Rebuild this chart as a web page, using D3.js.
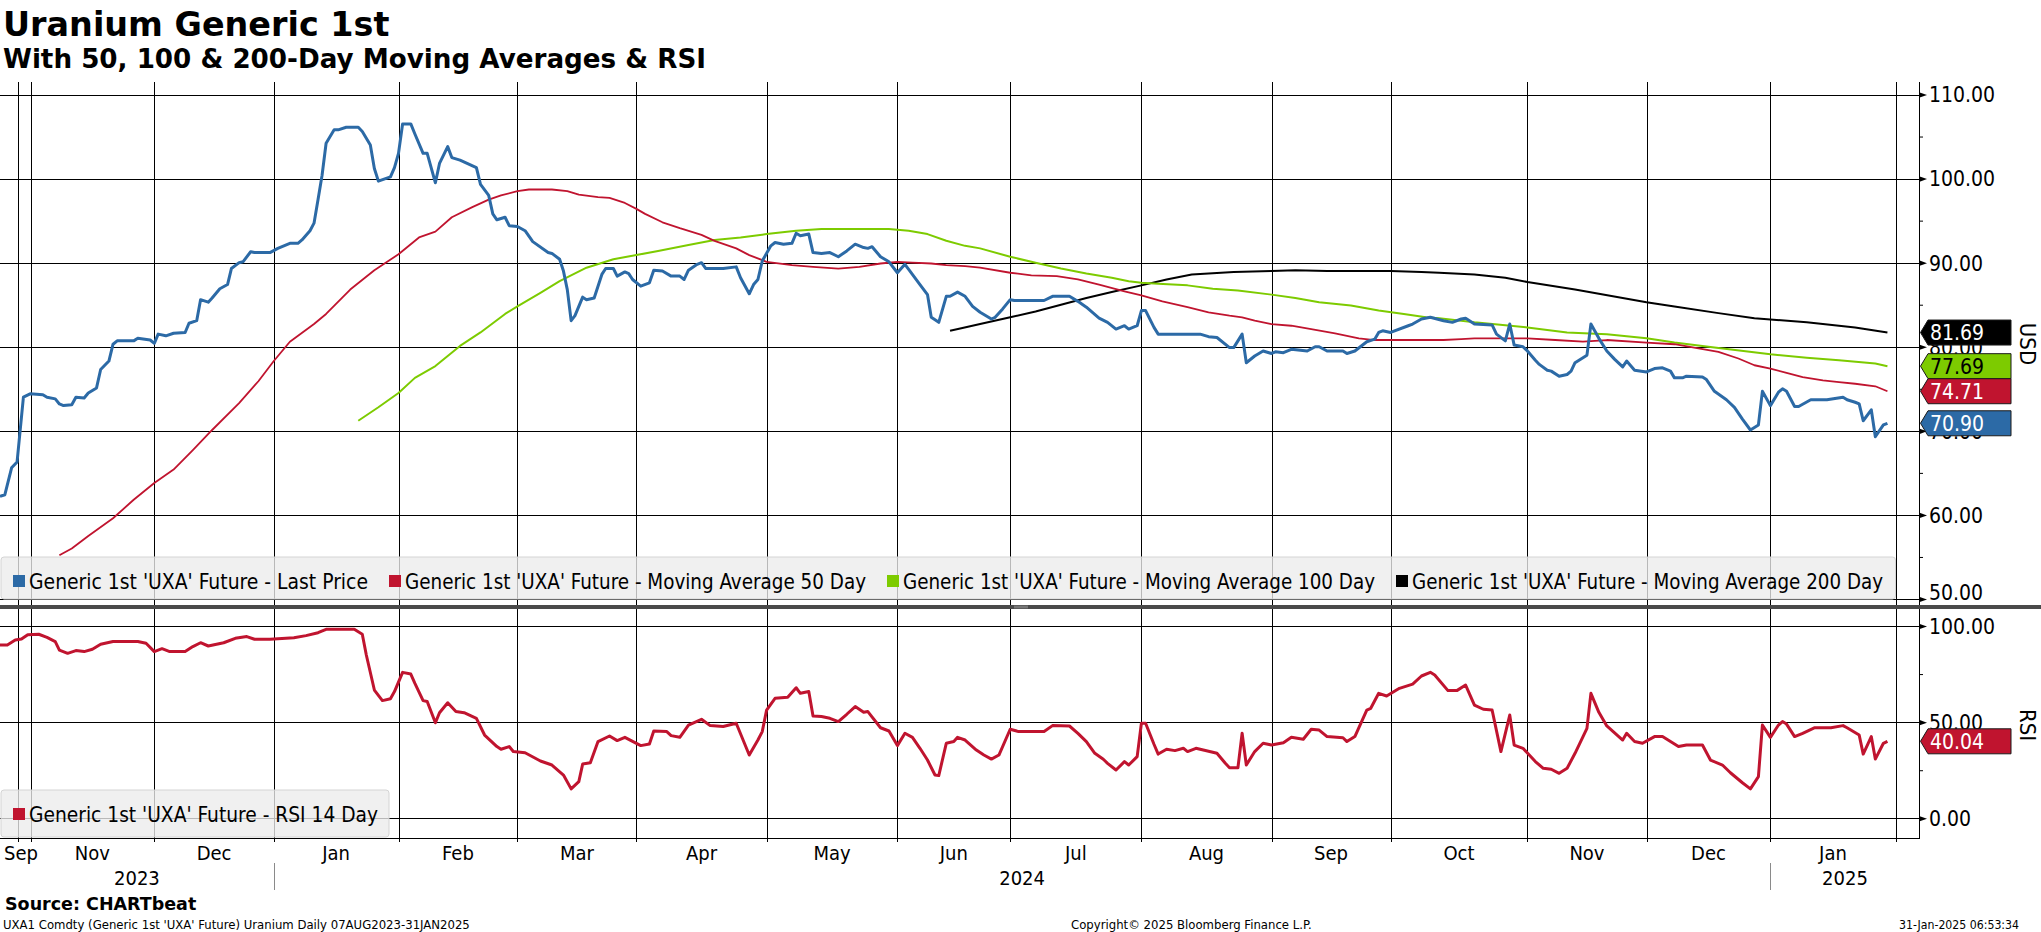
<!DOCTYPE html>
<meta charset="utf-8">
<style>
body { margin: 0; background: #fff; }
text { font-family: "DejaVu Sans", "Liberation Sans", sans-serif; }
.cond { font-stretch: condensed; }
</style>
<body>
<script src="https://cdn.jsdelivr.net/npm/d3@7/dist/d3.min.js"></script>
<script>

// ---- data ----
var monthStarts = ["2023-09-01","2023-10-01","2023-11-01","2023-12-01","2024-01-01","2024-02-01","2024-03-01","2024-04-01","2024-05-01","2024-06-01","2024-07-01","2024-08-01","2024-09-01","2024-10-01","2024-11-01","2024-12-01","2025-01-01","2025-02-01"];
var monthLabels = ["Sep","","Nov","Dec","Jan","Feb","Mar","Apr","May","Jun","Jul","Aug","Sep","Oct","Nov","Dec","Jan",""];
var yearLabels = ["2023","2024","2025"];
var axisEnd = "2025-02-06";

var priceTicks = [50, 60, 70, 80, 90, 100, 110];
var rsiTicks = [0, 50, 100];

var lastPrice = [["2023-09-01",62.2],["2023-09-09",62.4],["2023-09-20",65.6],["2023-09-29",66.3],["2023-10-14",74.0],["2023-10-31",74.4],["2023-11-04",74.3],["2023-11-05",74.0],["2023-11-07",73.8],["2023-11-08",73.2],["2023-11-09",73.0],["2023-11-11",73.1],["2023-11-12",74.0],["2023-11-14",73.9],["2023-11-15",74.5],["2023-11-17",75.1],["2023-11-18",77.3],["2023-11-20",78.3],["2023-11-21",80.3],["2023-11-22",80.7],["2023-11-26",80.7],["2023-11-27",81.0],["2023-11-30",80.8],["2023-12-01",80.4],["2023-12-02",81.5],["2023-12-04",81.3],["2023-12-06",81.6],["2023-12-09",81.7],["2023-12-10",82.8],["2023-12-12",83.1],["2023-12-13",85.6],["2023-12-15",85.3],["2023-12-16",85.8],["2023-12-18",86.9],["2023-12-20",87.4],["2023-12-21",89.3],["2023-12-23",90.0],["2023-12-24",90.1],["2023-12-26",91.3],["2023-12-27",91.2],["2023-12-31",91.2],["2024-01-02",91.7],["2024-01-05",92.3],["2024-01-07",92.3],["2024-01-08",92.7],["2024-01-10",93.8],["2024-01-11",94.7],["2024-01-12",97.5],["2024-01-13",100.4],["2024-01-14",104.2],["2024-01-16",105.8],["2024-01-17",105.8],["2024-01-19",106.1],["2024-01-22",106.1],["2024-01-23",105.6],["2024-01-25",104.0],["2024-01-26",101.2],["2024-01-27",99.7],["2024-01-30",100.2],["2024-01-31",101.3],["2024-02-01",103.0],["2024-02-02",106.5],["2024-02-04",106.5],["2024-02-05",105.3],["2024-02-07",103.0],["2024-02-08",103.0],["2024-02-10",99.5],["2024-02-11",101.8],["2024-02-13",103.8],["2024-02-14",102.5],["2024-02-16",102.2],["2024-02-20",101.3],["2024-02-21",99.3],["2024-02-23",98.0],["2024-02-24",95.8],["2024-02-25",95.1],["2024-02-27",95.4],["2024-02-28",94.4],["2024-03-01",94.3],["2024-03-03",93.8],["2024-03-05",92.5],["2024-03-09",91.2],["2024-03-10",91.1],["2024-03-12",90.4],["2024-03-13",89.0],["2024-03-14",86.8],["2024-03-15",83.1],["2024-03-16",83.7],["2024-03-18",85.9],["2024-03-19",85.6],["2024-03-21",85.8],["2024-03-23",88.6],["2024-03-24",89.3],["2024-03-26",89.3],["2024-03-27",88.4],["2024-03-29",88.9],["2024-03-30",88.7],["2024-03-31",88.0],["2024-04-02",87.2],["2024-04-04",87.6],["2024-04-05",89.1],["2024-04-07",89.0],["2024-04-09",88.4],["2024-04-11",88.4],["2024-04-12",88.0],["2024-04-13",89.1],["2024-04-15",89.8],["2024-04-16",90.0],["2024-04-17",89.3],["2024-04-21",89.3],["2024-04-24",89.5],["2024-04-25",88.2],["2024-04-27",86.3],["2024-04-28",87.4],["2024-04-29",88.0],["2024-04-30",90.2],["2024-05-02",92.0],["2024-05-03",92.4],["2024-05-05",92.2],["2024-05-07",92.3],["2024-05-08",93.5],["2024-05-09",93.2],["2024-05-11",93.4],["2024-05-12",91.2],["2024-05-14",91.1],["2024-05-16",91.2],["2024-05-18",90.7],["2024-05-20",91.4],["2024-05-22",92.2],["2024-05-24",91.8],["2024-05-25",91.7],["2024-05-26",91.9],["2024-05-28",90.7],["2024-05-30",90.1],["2024-06-01",88.8],["2024-06-03",89.8],["2024-06-04",89.2],["2024-06-07",87.4],["2024-06-09",86.2],["2024-06-10",83.5],["2024-06-12",82.9],["2024-06-14",86.0],["2024-06-15",86.0],["2024-06-17",86.5],["2024-06-19",86.0],["2024-06-21",84.8],["2024-06-23",84.1],["2024-06-26",83.3],["2024-06-27",83.5],["2024-06-29",84.5],["2024-07-01",85.6],["2024-07-02",85.5],["2024-07-09",85.5],["2024-07-11",86.0],["2024-07-15",86.0],["2024-07-17",85.4],["2024-07-19",84.7],["2024-07-22",83.4],["2024-07-24",82.9],["2024-07-26",82.1],["2024-07-28",82.5],["2024-07-29",82.1],["2024-07-31",82.5],["2024-08-01",84.3],["2024-08-02",84.3],["2024-08-04",82.3],["2024-08-05",81.5],["2024-08-15",81.5],["2024-08-17",81.2],["2024-08-19",81.1],["2024-08-22",79.9],["2024-08-23",79.9],["2024-08-25",81.5],["2024-08-26",78.1],["2024-08-28",78.9],["2024-08-30",79.5],["2024-09-01",79.2],["2024-09-02",79.4],["2024-09-04",79.3],["2024-09-06",79.7],["2024-09-10",79.5],["2024-09-12",80.0],["2024-09-13",80.0],["2024-09-15",79.5],["2024-09-19",79.5],["2024-09-20",79.2],["2024-09-22",79.5],["2024-09-25",80.6],["2024-09-27",80.9],["2024-09-28",81.7],["2024-09-29",81.9],["2024-10-01",81.7],["2024-10-05",82.5],["2024-10-06",82.7],["2024-10-08",83.3],["2024-10-10",83.5],["2024-10-13",83.1],["2024-10-15",82.9],["2024-10-17",83.3],["2024-10-18",83.4],["2024-10-20",82.7],["2024-10-24",82.6],["2024-10-25",81.5],["2024-10-27",80.7],["2024-10-28",82.7],["2024-10-29",80.2],["2024-10-31",80.0],["2024-11-01",79.5],["2024-11-03",78.4],["2024-11-04",77.9],["2024-11-06",77.2],["2024-11-07",77.1],["2024-11-09",76.5],["2024-11-11",76.7],["2024-11-12",77.1],["2024-11-13",78.1],["2024-11-16",79.0],["2024-11-17",82.7],["2024-11-19",81.0],["2024-11-21",79.5],["2024-11-23",78.5],["2024-11-25",77.6],["2024-11-26",78.3],["2024-11-28",77.2],["2024-12-01",77.0],["2024-12-03",77.4],["2024-12-05",77.5],["2024-12-07",77.1],["2024-12-08",76.3],["2024-12-10",76.3],["2024-12-11",76.5],["2024-12-15",76.4],["2024-12-16",76.1],["2024-12-18",74.7],["2024-12-21",73.7],["2024-12-23",72.8],["2024-12-25",71.4],["2024-12-27",70.1],["2024-12-29",70.7],["2024-12-30",74.7],["2025-01-01",73.0],["2025-01-03",74.6],["2025-01-04",75.0],["2025-01-05",74.7],["2025-01-07",72.9],["2025-01-08",72.9],["2025-01-11",73.7],["2025-01-15",73.7],["2025-01-19",74.0],["2025-01-20",73.7],["2025-01-22",73.4],["2025-01-23",73.2],["2025-01-24",71.2],["2025-01-26",72.5],["2025-01-27",69.3],["2025-01-29",70.7],["2025-01-30",70.9]];

var ma50 = [["2023-11-08",55.2],["2023-11-11",56.0],["2023-11-15",57.5],["2023-11-21",59.6],["2023-11-26",61.8],["2023-12-01",63.8],["2023-12-06",65.4],["2023-12-11",67.7],["2023-12-16",70.1],["2023-12-23",73.3],["2023-12-28",75.9],["2024-01-01",78.3],["2024-01-05",80.6],["2024-01-11",82.7],["2024-01-14",83.9],["2024-01-20",86.8],["2024-01-26",89.1],["2024-02-01",91.0],["2024-02-06",93.0],["2024-02-10",93.7],["2024-02-14",95.4],["2024-02-19",96.6],["2024-02-23",97.5],["2024-02-26",98.0],["2024-03-01",98.5],["2024-03-04",98.7],["2024-03-10",98.7],["2024-03-14",98.5],["2024-03-17",98.1],["2024-03-22",97.8],["2024-03-25",97.7],["2024-03-29",97.1],["2024-04-01",96.4],["2024-04-03",95.8],["2024-04-07",94.8],["2024-04-11",94.1],["2024-04-16",93.3],["2024-04-19",92.6],["2024-04-24",91.7],["2024-04-27",90.9],["2024-05-01",90.1],["2024-05-07",89.7],["2024-05-12",89.5],["2024-05-18",89.3],["2024-05-23",89.5],["2024-05-28",89.9],["2024-06-01",90.1],["2024-06-05",90.0],["2024-06-10",89.9],["2024-06-14",89.7],["2024-06-19",89.6],["2024-06-23",89.4],["2024-07-01",88.8],["2024-07-06",88.5],["2024-07-12",88.4],["2024-07-17",88.0],["2024-07-22",87.4],["2024-07-28",86.6],["2024-08-01",86.1],["2024-08-06",85.4],["2024-08-12",84.7],["2024-08-17",84.1],["2024-08-22",83.7],["2024-08-25",83.5],["2024-08-28",83.1],["2024-09-01",82.7],["2024-09-06",82.5],["2024-09-11",82.1],["2024-09-17",81.6],["2024-09-23",81.0],["2024-09-27",80.8],["2024-10-02",80.8],["2024-10-08",80.8],["2024-10-13",80.8],["2024-10-17",80.9],["2024-10-20",81.0],["2024-11-01",81.0],["2024-11-08",80.8],["2024-11-15",80.6],["2024-11-21",80.8],["2024-12-01",80.5],["2024-12-08",80.3],["2024-12-14",79.8],["2024-12-19",79.4],["2024-12-24",78.6],["2024-12-28",77.8],["2025-01-01",77.4],["2025-01-05",76.9],["2025-01-09",76.4],["2025-01-14",76.0],["2025-01-18",75.8],["2025-01-22",75.6],["2025-01-27",75.3],["2025-01-30",74.71]];

var ma100 = [["2024-01-22",71.2],["2024-01-27",72.8],["2024-02-01",74.5],["2024-02-05",76.3],["2024-02-10",77.7],["2024-02-16",80.1],["2024-02-21",81.7],["2024-02-27",83.9],["2024-03-01",84.8],["2024-03-07",86.4],["2024-03-12",87.8],["2024-03-19",89.4],["2024-03-26",90.4],["2024-04-01",90.9],["2024-04-06",91.4],["2024-04-13",92.1],["2024-04-19",92.7],["2024-04-25",93.0],["2024-05-01",93.4],["2024-05-08",93.8],["2024-05-14",94.0],["2024-05-20",94.0],["2024-05-30",94.0],["2024-06-04",93.8],["2024-06-09",93.4],["2024-06-14",92.6],["2024-06-19",92.0],["2024-06-23",91.7],["2024-07-01",90.7],["2024-07-07",90.0],["2024-07-13",89.3],["2024-07-19",88.7],["2024-07-25",88.2],["2024-07-29",87.8],["2024-08-01",87.6],["2024-08-05",87.5],["2024-08-12",87.3],["2024-08-18",86.9],["2024-08-24",86.7],["2024-09-01",86.2],["2024-09-07",85.8],["2024-09-13",85.3],["2024-09-21",84.9],["2024-09-28",84.3],["2024-10-04",83.9],["2024-10-09",83.5],["2024-10-12",83.4],["2024-10-17",83.1],["2024-10-20",82.9],["2024-11-01",82.3],["2024-11-11",81.7],["2024-11-21",81.5],["2024-12-01",81.0],["2024-12-08",80.5],["2024-12-18",79.9],["2025-01-01",79.1],["2025-01-10",78.7],["2025-01-18",78.4],["2025-01-27",78.0],["2025-01-30",77.69]];

var ma200 = [["2024-06-15",81.9],["2024-06-18",82.2],["2024-06-23",82.7],["2024-07-01",83.5],["2024-07-07",84.2],["2024-07-13",85.0],["2024-07-19",85.8],["2024-07-25",86.5],["2024-08-01",87.3],["2024-08-07",88.0],["2024-08-13",88.6],["2024-08-23",88.9],["2024-09-01",89.0],["2024-09-07",89.1],["2024-09-15",89.0],["2024-10-01",89.0],["2024-10-08",88.9],["2024-10-12",88.8],["2024-10-20",88.6],["2024-10-27",88.2],["2024-11-01",87.7],["2024-11-13",86.8],["2024-12-01",85.3],["2024-12-08",84.8],["2024-12-19",84.0],["2024-12-28",83.4],["2025-01-10",82.9],["2025-01-22",82.3],["2025-01-30",81.69]];

var rsi14 = [["2023-09-01",90.1],["2023-09-13",90.1],["2023-09-26",92.7],["2023-10-09",93.2],["2023-10-25",95.5],["2023-11-03",95.7],["2023-11-05",94.1],["2023-11-07",91.9],["2023-11-08",87.5],["2023-11-10",85.8],["2023-11-12",87.2],["2023-11-14",86.7],["2023-11-16",87.9],["2023-11-18",90.5],["2023-11-21",91.9],["2023-11-27",91.9],["2023-11-29",91.0],["2023-12-01",86.7],["2023-12-03",88.2],["2023-12-05",86.7],["2023-12-09",86.7],["2023-12-11",89.3],["2023-12-13",91.3],["2023-12-15",89.6],["2023-12-19",91.3],["2023-12-22",93.6],["2023-12-25",94.5],["2023-12-27",93.1],["2023-12-31",93.1],["2024-01-06",93.9],["2024-01-09",95.0],["2024-01-12",96.5],["2024-01-14",98.3],["2024-01-21",98.3],["2024-01-23",95.7],["2024-01-24",84.9],["2024-01-26",66.7],["2024-01-28",61.2],["2024-01-30",62.2],["2024-01-31",65.9],["2024-02-02",75.9],["2024-02-04",75.0],["2024-02-05",70.2],["2024-02-07",61.2],["2024-02-08",60.7],["2024-02-10",49.7],["2024-02-11",54.9],["2024-02-13",60.1],["2024-02-15",55.5],["2024-02-17",54.9],["2024-02-20",52.0],["2024-02-22",43.3],["2024-02-25",37.3],["2024-02-26",35.9],["2024-02-28",37.3],["2024-02-29",34.7],["2024-03-03",34.1],["2024-03-07",29.8],["2024-03-10",27.7],["2024-03-13",22.5],["2024-03-15",15.3],["2024-03-17",19.1],["2024-03-18",28.2],["2024-03-20",28.9],["2024-03-22",39.9],["2024-03-25",42.8],["2024-03-27",40.4],["2024-03-29",42.1],["2024-04-02",37.8],["2024-04-04",38.6],["2024-04-05",45.4],["2024-04-08",45.1],["2024-04-09",43.0],["2024-04-11",42.1],["2024-04-13",48.5],["2024-04-16",51.5],["2024-04-18",48.2],["2024-04-21",47.7],["2024-04-24",49.4],["2024-04-27",32.9],["2024-04-29",40.7],["2024-04-30",45.1],["2024-05-01",56.3],["2024-05-03",62.4],["2024-05-06",62.9],["2024-05-08",67.9],["2024-05-09",65.0],["2024-05-11",65.9],["2024-05-12",53.2],["2024-05-14",52.9],["2024-05-16",52.0],["2024-05-18",50.3],["2024-05-20",54.1],["2024-05-22",58.1],["2024-05-24",55.1],["2024-05-25",55.5],["2024-05-28",47.1],["2024-05-30",45.4],["2024-06-01",37.8],["2024-06-03",44.2],["2024-06-05",42.1],["2024-06-07",36.4],["2024-06-09",30.3],["2024-06-11",22.5],["2024-06-12",22.2],["2024-06-14",39.0],["2024-06-16",39.9],["2024-06-17",42.1],["2024-06-19",40.7],["2024-06-22",35.5],["2024-06-24",32.9],["2024-06-26",30.8],["2024-06-28",32.9],["2024-07-01",46.3],["2024-07-03",45.1],["2024-07-09",45.1],["2024-07-11",48.2],["2024-07-15",48.0],["2024-07-17",44.2],["2024-07-19",39.9],["2024-07-21",33.8],["2024-07-23",30.7],["2024-07-24",28.6],["2024-07-26",25.1],["2024-07-28",29.5],["2024-07-29",27.7],["2024-07-31",32.1],["2024-08-01",49.4],["2024-08-02",49.4],["2024-08-04",38.5],["2024-08-05",33.4],["2024-08-07",35.9],["2024-08-09",35.2],["2024-08-11",36.4],["2024-08-12",34.7],["2024-08-14",36.4],["2024-08-19",33.8],["2024-08-21",28.6],["2024-08-22",26.3],["2024-08-24",26.3],["2024-08-25",44.2],["2024-08-26",27.7],["2024-08-28",34.7],["2024-08-30",39.0],["2024-09-01",38.1],["2024-09-04",39.3],["2024-09-06",42.1],["2024-09-09",41.1],["2024-09-11",46.3],["2024-09-13",45.9],["2024-09-15",42.5],["2024-09-19",41.9],["2024-09-20",39.9],["2024-09-22",42.5],["2024-09-25",56.3],["2024-09-26",57.2],["2024-09-28",65.0],["2024-09-30",63.6],["2024-10-03",67.6],["2024-10-06",69.8],["2024-10-08",74.0],["2024-10-10",75.9],["2024-10-11",74.5],["2024-10-14",66.4],["2024-10-16",66.4],["2024-10-18",69.3],["2024-10-20",58.9],["2024-10-22",56.7],["2024-10-24",56.3],["2024-10-26",34.7],["2024-10-28",53.7],["2024-10-29",38.1],["2024-10-31",36.4],["2024-11-03",29.5],["2024-11-05",26.0],["2024-11-07",25.5],["2024-11-09",23.4],["2024-11-11",26.0],["2024-11-13",33.8],["2024-11-16",46.8],["2024-11-17",65.0],["2024-11-19",55.1],["2024-11-21",48.0],["2024-11-25",40.7],["2024-11-26",44.2],["2024-11-28",39.9],["2024-11-30",39.0],["2024-12-03",42.5],["2024-12-05",42.5],["2024-12-09",37.3],["2024-12-11",38.1],["2024-12-15",38.1],["2024-12-17",30.3],["2024-12-20",27.7],["2024-12-22",23.7],["2024-12-25",18.5],["2024-12-27",15.3],["2024-12-29",21.7],["2024-12-30",48.5],["2025-01-01",42.1],["2025-01-03",48.5],["2025-01-04",50.3],["2025-01-05",49.0],["2025-01-07",42.5],["2025-01-09",44.2],["2025-01-12",47.1],["2025-01-16",47.1],["2025-01-19",48.2],["2025-01-20",47.1],["2025-01-23",43.3],["2025-01-24",33.4],["2025-01-26",42.5],["2025-01-27",30.8],["2025-01-29",39.0],["2025-01-30",40.04]];

var legendNames = ["Generic 1st 'UXA' Future - Last Price", "Generic 1st 'UXA' Future - Moving Average 50 Day", "Generic 1st 'UXA' Future - Moving Average 100 Day", "Generic 1st 'UXA' Future - Moving Average 200 Day"];
var rsiName = "Generic 1st 'UXA' Future - RSI 14 Day";

// ---- styling ----
var blue = "#2c6aa6", red = "#c0142f", green = "#7dcb00", black = "#000";
var legendWidths = [339, 461, 472, 471];   // text widths as measured in the picture
var rsiLegendWidth = 349;

var W = 2041, H = 932;
var plotRight = 1919, plotTop = 82, sepY = 607, plotBottom = 838;

var parse = d3.timeParse("%Y-%m-%d");

var axisPx = [0, 18.3, 30.5, 154.3, 273.8, 398.5, 517.4, 636.4, 766.6, 897.4, 1010.2, 1141.4, 1271.5, 1390.6, 1527.4, 1646.5, 1770.4, 1895.5, 1919.5];
var x = d3.scaleTime()
    .domain(monthStarts.concat([axisEnd]).map(parse))
    .range(axisPx)
    .clamp(true);

var y = d3.scaleLinear().domain([50, 110]).range([599, 94.5]);
var yR = d3.scaleLinear().domain([0, 100]).range([818.3, 626]);

var svg = d3.select("body").append("svg")
    .attr("width", W)
    .attr("height", H);

// ---- titles ----
svg.append("text").attr("x", 3).attr("y", 36)
    .style("font-weight", "bold").style("font-size", "33.4px")
    .text("Uranium Generic 1st");
svg.append("text").attr("x", 3).attr("y", 68)
    .style("font-weight", "bold").style("font-size", "26.2px")
    .text("With 50, 100 & 200-Day Moving Averages & RSI");

// ---- grid ----
var grid = svg.append("g").attr("shape-rendering", "crispEdges");

grid.selectAll(".vg").data(monthStarts.slice(1))
  .enter().append("line")
    .attr("x1", function(d) { return Math.round(x(parse(d))) + 0.5; })
    .attr("x2", function(d) { return Math.round(x(parse(d))) + 0.5; })
    .attr("y1", plotTop).attr("y2", plotBottom + 4)
    .attr("stroke", "#000").attr("stroke-width", 1);

grid.selectAll(".hg").data(priceTicks)
  .enter().append("line")
    .attr("x1", 0).attr("x2", plotRight)
    .attr("y1", function(d) { return Math.round(y(d)) + 0.5; })
    .attr("y2", function(d) { return Math.round(y(d)) + 0.5; })
    .attr("stroke", "#000");

grid.selectAll(".hr").data(rsiTicks)
  .enter().append("line")
    .attr("x1", 0).attr("x2", plotRight)
    .attr("y1", function(d) { return Math.round(yR(d)) + 0.5; })
    .attr("y2", function(d) { return Math.round(yR(d)) + 0.5; })
    .attr("stroke", "#000");

// ---- series ----
function lineFor(scale) {
  return d3.line()
    .x(function(d) { return x(parse(d[0])); })
    .y(function(d) { return scale(d[1]); });
}

var upper = [
  {data: ma200, color: black, w: 2},
  {data: ma100, color: green, w: 2},
  {data: ma50, color: red, w: 1.8},
  {data: lastPrice, color: blue, w: 3}
];
upper.forEach(function(s) {
  svg.append("path")
      .datum(s.data)
      .attr("fill", "none")
      .attr("stroke", s.color)
      .attr("stroke-width", s.w)
      .attr("stroke-linejoin", "round")
      .attr("d", lineFor(y));
});

svg.append("path")
    .datum(rsi14)
    .attr("fill", "none")
    .attr("stroke", red)
    .attr("stroke-width", 3)
    .attr("stroke-linejoin", "round")
    .attr("d", lineFor(yR));

// ---- legends ----
function legendBox(x0, y0, w, h) {
  svg.append("rect")
      .attr("x", x0).attr("y", y0).attr("width", w).attr("height", h)
      .attr("rx", 3)
      .attr("fill", "#ececec").attr("fill-opacity", 0.78)
      .attr("stroke", "#d4d4d4");
}
legendBox(1, 557, x(parse("2025-02-01")) - 1, 42);
legendBox(1, 790, 388, 47);

var legendColors = [blue, red, green, black];
var lx = 13;
legendNames.forEach(function(name, i) {
  svg.append("rect").attr("x", lx).attr("y", 575).attr("width", 12).attr("height", 12)
      .attr("fill", legendColors[i]);
  svg.append("text").attr("class", "cond")
      .attr("x", lx + 16).attr("y", 589)
      .attr("textLength", legendWidths[i])
      .attr("lengthAdjust", "spacingAndGlyphs")
      .style("font-size", "21px")
      .text(name);
  lx = lx + 16 + legendWidths[i] + 21;
});

svg.append("rect").attr("x", 13).attr("y", 808).attr("width", 12).attr("height", 12).attr("fill", red);
svg.append("text").attr("class", "cond")
    .attr("x", 29).attr("y", 822)
    .attr("textLength", rsiLegendWidth)
    .attr("lengthAdjust", "spacingAndGlyphs")
    .style("font-size", "21px")
    .text(rsiName);

// ---- frame ----
svg.append("line")
    .attr("x1", plotRight + 0.5).attr("x2", plotRight + 0.5)
    .attr("y1", plotTop).attr("y2", plotBottom + 0.5)
    .attr("stroke", "#000").attr("shape-rendering", "crispEdges");
svg.append("line")
    .attr("x1", 0).attr("x2", plotRight + 1)
    .attr("y1", plotBottom + 0.5).attr("y2", plotBottom + 0.5)
    .attr("stroke", "#000").attr("shape-rendering", "crispEdges");
svg.append("rect")
    .attr("x", 0).attr("y", sepY - 2).attr("width", W).attr("height", 4)
    .attr("fill", "#4a4a4a");
// little resize grip on the divider
[-1, 1].forEach(function(o) {
  svg.append("line")
      .attr("x1", 1014).attr("x2", 1028)
      .attr("y1", sepY + o * 0.8).attr("y2", sepY + o * 0.8)
      .attr("stroke", "#9a9a9a").attr("stroke-width", 0.8);
});

// ---- right axes ----
function rightAxis(scale, ticks, minor, lowest) {
  var g = svg.append("g")
      .attr("transform", "translate(" + plotRight + ",0)")
      .call(d3.axisRight(scale).tickValues(ticks).tickFormat(d3.format(".2f")).tickSize(0).tickPadding(10));
  g.select(".domain").remove();
  g.selectAll(".tick text")
      .attr("class", "cond")
      .attr("dy", function(d) { return d === lowest ? "0" : "0.35em"; })
      .style("font-size", "21px")
      .style("font-family", "'DejaVu Sans', sans-serif")
      .attr("fill", "#000");
  g.selectAll(".tick").append("path")
      .attr("d", "M0,-2.8L8,0L0,2.8Z")
      .attr("fill", "#000");
  svg.append("g")
      .attr("transform", "translate(" + plotRight + ",0)")
      .call(d3.axisRight(scale).tickValues(minor).tickFormat("").tickSize(4))
    .select(".domain").remove();
}
// the bottom price label sits just above its tick so it stays clear of the divider
rightAxis(y, priceTicks, [55, 65, 75, 85, 95, 105], 50);
rightAxis(yR, rsiTicks, [25, 75], null);

svg.append("text").attr("class", "cond")
    .attr("transform", "translate(2020,344) rotate(90)")
    .attr("text-anchor", "middle")
    .style("font-size", "22px")
    .text("USD");
svg.append("text").attr("class", "cond")
    .attr("transform", "translate(2020,725) rotate(90)")
    .attr("text-anchor", "middle")
    .style("font-size", "22px")
    .text("RSI");

// ---- last value tags ----
function tag(scale, v, fill, textColor) {
  var cy = scale(v);
  var g = svg.append("g");
  g.append("path")
      .attr("d", "M" + (plotRight + 1.5) + "," + cy +
                 "L" + (plotRight + 9) + "," + (cy - 12.5) +
                 "L2011," + (cy - 12.5) + "L2011," + (cy + 12.5) +
                 "L" + (plotRight + 9) + "," + (cy + 12.5) + "Z")
      .attr("fill", fill)
      .attr("stroke", "#1a1a1a").attr("stroke-width", 1);
  g.append("text").attr("class", "cond")
      .attr("x", plotRight + 11).attr("y", cy).attr("dy", "0.36em")
      .style("font-size", "21px")
      .attr("fill", textColor)
      .text(d3.format(".2f")(v));
}
tag(y, ma200[ma200.length - 1][1], black, "#fff");
tag(y, ma100[ma100.length - 1][1], green, "#000");
tag(y, ma50[ma50.length - 1][1], red, "#fff");
tag(y, lastPrice[lastPrice.length - 1][1], blue, "#fff");
tag(yR, rsi14[rsi14.length - 1][1], red, "#fff");

// ---- x axis labels ----
monthLabels.forEach(function(lab, i) {
  if (!lab) return;
  var a = x(parse(monthStarts[i]));
  var b = i + 1 < monthStarts.length ? x(parse(monthStarts[i + 1])) : plotRight;
  var t = svg.append("text").attr("class", "cond")
      .attr("y", 860)
      .style("font-size", "20px")
      .text(lab);
  var w = t.node().getComputedTextLength();
  var cx = Math.max((a + b) / 2, 4 + w / 2);
  t.attr("x", cx).attr("text-anchor", "middle");
});

var yearEdges = [parse(monthStarts[0]), parse("2024-01-01"), parse("2025-01-01"), parse(axisEnd)];
yearLabels.forEach(function(lab, i) {
  svg.append("text").attr("class", "cond")
      .attr("x", (x(yearEdges[i]) + x(yearEdges[i + 1])) / 2)
      .attr("y", 885)
      .attr("text-anchor", "middle")
      .style("font-size", "20px")
      .text(lab);
});
yearEdges.slice(1, 3).forEach(function(d) {
  svg.append("line")
      .attr("x1", Math.round(x(d)) + 0.5).attr("x2", Math.round(x(d)) + 0.5)
      .attr("y1", 863).attr("y2", 890)
      .attr("stroke", "#8a8a8a").attr("shape-rendering", "crispEdges");
});

// ---- footer ----
svg.append("text").attr("x", 5).attr("y", 910)
    .style("font-weight", "bold").style("font-size", "17.5px")
    .text("Source: CHARTbeat");
svg.append("text").attr("class", "cond").attr("x", 3).attr("y", 929)
    .style("font-size", "13px")
    .text("UXA1 Comdty (Generic 1st 'UXA' Future) Uranium  Daily 07AUG2023-31JAN2025");
svg.append("text").attr("class", "cond").attr("x", 1071).attr("y", 929)
    .style("font-size", "13px")
    .text("Copyright\u00a9 2025 Bloomberg Finance L.P.");
svg.append("text").attr("class", "cond").attr("x", 2019).attr("y", 929)
    .attr("text-anchor", "end")
    .style("font-size", "12.2px")
    .text("31-Jan-2025 06:53:34");

</script>
</body>
